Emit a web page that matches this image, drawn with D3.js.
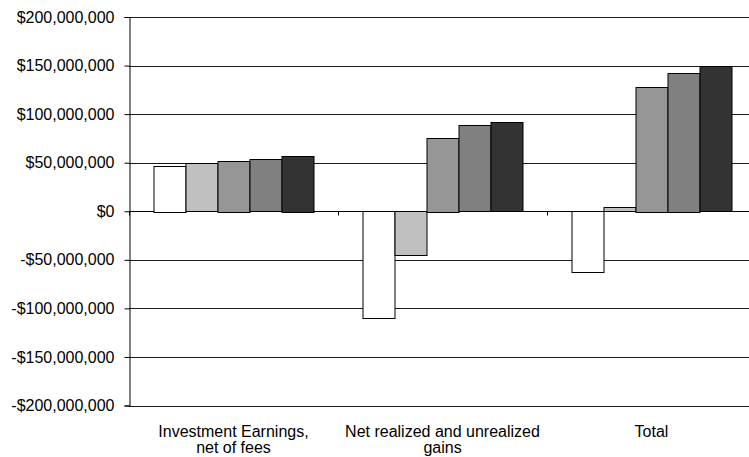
<!DOCTYPE html>
<html>
<head>
<meta charset="utf-8">
<script src="https://cdn.jsdelivr.net/npm/d3@7"></script>
<style>
  html, body { margin: 0; padding: 0; background: #fff; }
  svg { display: block; }
  text { font-family: "Liberation Sans", Arial, sans-serif; font-size: 16px; fill: #000; }
</style>
</head>
<body>
<svg id="chart" width="749" height="457"></svg>
<script>
// Categories (x axis) and their wrapped label lines
const categories = ["Investment Earnings, net of fees", "Net realized and unrealized gains", "Total"];
const categoryLines = [["Investment Earnings,", "net of fees"], ["Net realized and unrealized", "gains"], ["Total"]];

// Series values (dollars), one array per series, one value per category
const seriesNames = ["Series 1", "Series 2", "Series 3", "Series 4", "Series 5"];
const series1 = [47000000, -110000000, -62500000];
const series2 = [49700000, -45300000, 4600000];
const series3 = [52100000, 75800000, 128200000];
const series4 = [53500000, 88800000, 142600000];
const series5 = [57300000, 91900000, 149700000];
const seriesColors = ["#ffffff", "#c0c0c0", "#969696", "#808080", "#333333"];

// Y axis ticks
const yTicks = [200000000, 150000000, 100000000, 50000000, 0, -50000000, -100000000, -150000000, -200000000];

const allSeries = [series1, series2, series3, series4, series5];

const svg = d3.select("#chart");
const mLeft = 129, mTop = 17, mBottom = 405.5, mRight = 756;

const y = d3.scaleLinear().domain([-200000000, 200000000]).range([mBottom, mTop]);
const x0 = d3.scaleBand().domain(categories).range([mLeft, mRight]).padding(0);
const x1 = d3.scaleBand().domain(seriesNames).range([24.5, x0.bandwidth() - 24.5]).padding(0);

const fmt = v => (v < 0 ? "-$" : "$") + d3.format(",")(Math.abs(v));

// gridlines
svg.append("g").selectAll("line").data(yTicks).join("line")
  .attr("x1", mLeft).attr("x2", 749)
  .attr("y1", d => Math.round(y(d)) + 0.5).attr("y2", d => Math.round(y(d)) + 0.5)
  .attr("stroke", "#1a1a1a").attr("stroke-width", 1);

// zero line (x axis) with ticks at category boundaries
const zy = Math.round(y(0)) + 0.5;
svg.append("line").attr("x1", mLeft).attr("x2", 749).attr("y1", zy).attr("y2", zy).attr("stroke", "#000");
const bounds = categories.map(c => x0(c)).concat([mRight]);
svg.append("g").selectAll("line").data(bounds).join("line")
  .attr("x1", d => Math.round(d) + 0.5).attr("x2", d => Math.round(d) + 0.5)
  .attr("y1", zy).attr("y2", zy + 4).attr("stroke", "#000");

// bars
const rows = categories.map((c, i) => ({ cat: c, vals: allSeries.map((s, j) => ({ name: seriesNames[j], v: s[i], color: seriesColors[j] })) }));
const g = svg.append("g");
g.selectAll("g").data(rows).join("g")
  .attr("transform", d => `translate(${x0(d.cat)},0)`)
  .selectAll("rect").data(d => d.vals).join("rect")
  .attr("x", d => x1(d.name) + 0.5)
  .attr("width", x1.bandwidth())
  .attr("y", d => Math.round(Math.min(y(d.v), y(0))) + 0.5)
  .attr("height", d => Math.max(1, Math.round(Math.abs(y(d.v) - y(0)))))
  .attr("fill", d => d.color)
  .attr("stroke", "#000").attr("stroke-width", 1);

// y axis
const yAxis = d3.axisLeft(y).tickValues(yTicks).tickFormat(fmt).tickSize(5).tickPadding(10);
const ya = svg.append("g").attr("transform", `translate(${mLeft + 0.5},0)`).call(yAxis);
ya.select(".domain").attr("stroke", "#000");
ya.selectAll(".tick line").attr("stroke", "#000");
ya.selectAll(".tick text").attr("font-size", 16.5).attr("font-family", "Liberation Sans, Arial, sans-serif").attr("fill", "#000");

// category labels
const labels = svg.append("g").selectAll("text").data(categories).join("text")
  .attr("text-anchor", "middle")
  .attr("x", d => x0(d) + x0.bandwidth() / 2)
  .attr("y", 437);
labels.each(function(d, i) {
  const t = d3.select(this);
  categoryLines[i].forEach((ln, k) => {
    t.append("tspan").attr("x", x0(d) + x0.bandwidth() / 2).attr("dy", k === 0 ? 0 : 16).text(ln);
  });
});
</script>
</body>
</html>
